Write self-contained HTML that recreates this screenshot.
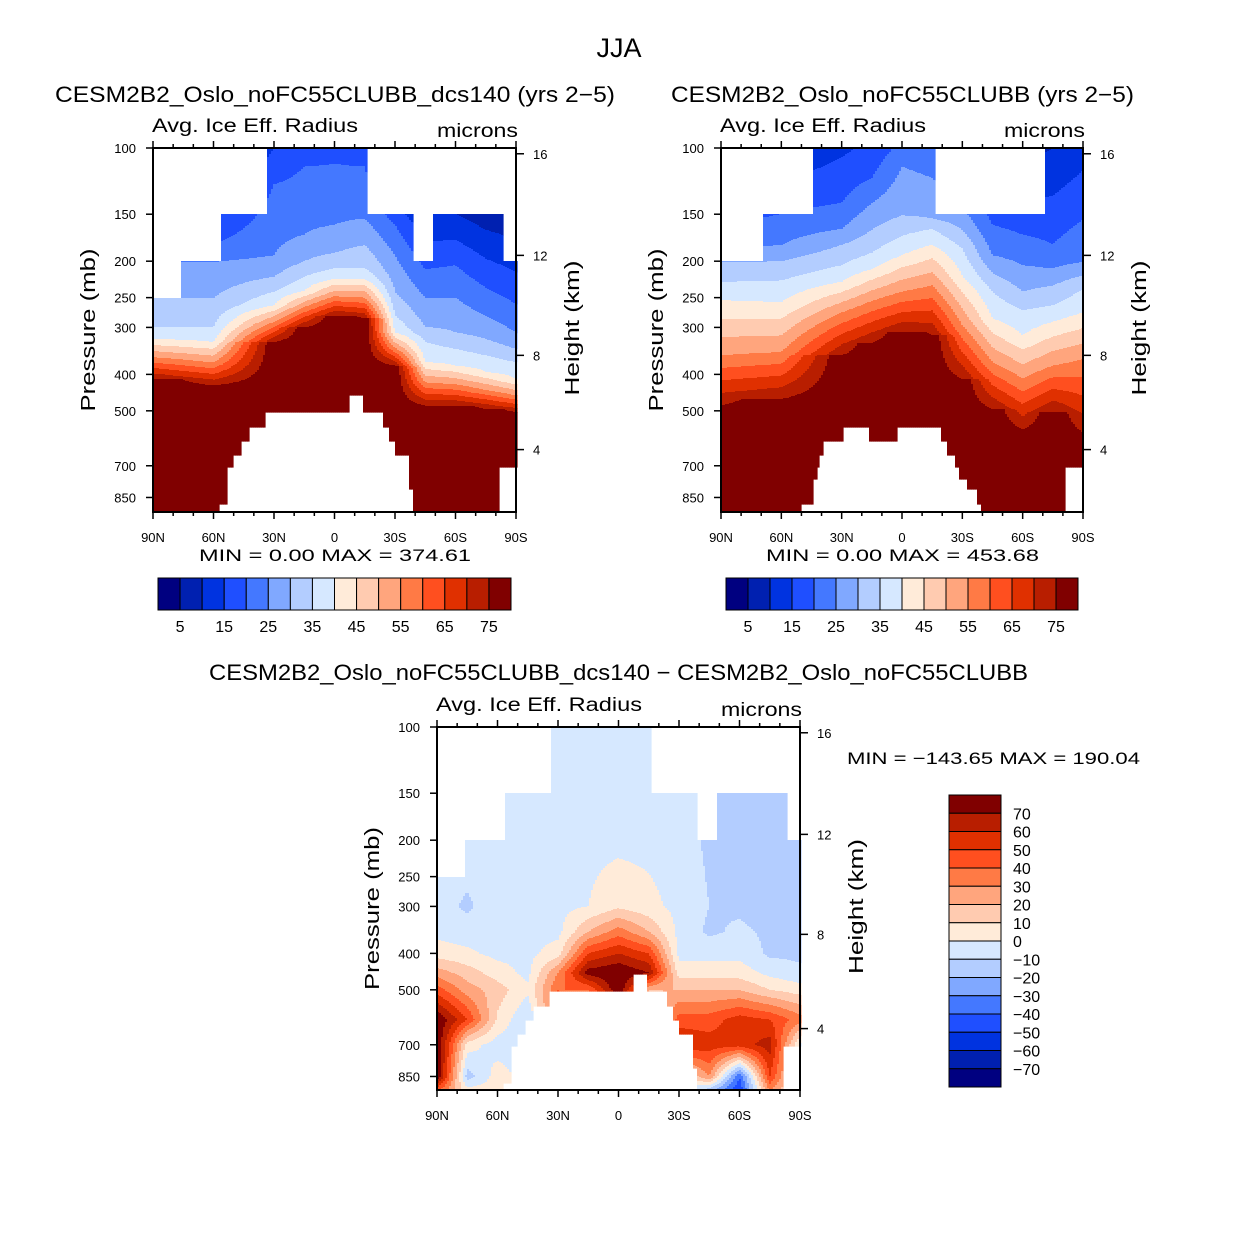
<!DOCTYPE html>
<html><head><meta charset="utf-8">
<style>
html,body{margin:0;padding:0;background:#fff;}
svg text{font-family:"Liberation Sans",sans-serif;fill:#000;}
</style></head>
<body>
<svg id="fig" xmlns="http://www.w3.org/2000/svg" width="1238" height="1240" viewBox="0 0 1238 1240">
<rect width="1238" height="1240" fill="#fff"/>
<text x="619" y="57" font-size="27" text-anchor="middle">JJA</text>
<g id="p1"></g>
<g id="p2"></g>
<g id="p3"></g>
</svg>
<script>
// ---------- data ----------
const COLORS = ["#000080","#0020b0","#0033e0","#1f4fff","#4478ff","#80a8ff","#b3cdff","#d6e8ff","#ffebd9","#ffcbb0","#ffa57d","#ff7a45","#ff4f1f","#e03000","#b81e00","#800000"];
const xTickLabels = ["90N","60N","30N","0","30S","60S","90S"];
const xTickLats = [90,60,30,0,-30,-60,-90];
const pTickLabels = ["100","150","200","250","300","400","500","700","850"];
const pTickVals = [100,150,200,250,300,400,500,700,850];
const hTickLabels = ["16","12","8","4"];
const hTickP = [103.6,193,356,634];
const absBarLabels = ["5","15","25","35","45","55","65","75"];
const diffBarLabels = ["70","60","50","40","30","20","10","0","\u221210","\u221220","\u221230","\u221240","\u221250","\u221260","\u221270"];

const levels = [10,20,25,30,35,40,55,75];
const lats12 = [90,60,30,15,0,-15,-30,-45,-60,-75,-90];
const lev1 = [
 [130,170,201,251,299,322,360,411],
 [130,181,201,251,299,328,372,428],
 [80,125,193,220,241,262,290,328],
 [75,112,170,200,220,240,265,300],
 [75,110,160,190,209,223,248,279],
 [75,112,154,181,209,223,250,284],
 [120,160,193,241,279,309,340,379],
 [150,210,250,299,328,371,420,484],
 [150,205,250,309,342,379,425,484],
 [165,235,280,322,356,394,440,494],
 [175,260,310,342,371,411,455,504]];
const lev2 = [
 [110,160,190,201,227,254,356,484],
 [100,150,181,200,225,257,349,465],
 [80,140,164,181,205,227,274,356],
 [75,120,140,165,190,210,255,330],
 [70,95,112,151,171,193,241,309],
 [65,90,120,154,164,181,232,315],
 [90,120,145,165,185,219,296,411],
 [105,160,193,215,241,284,371,494],
 [110,170,205,241,270,315,411,560],
 [100,180,209,232,262,290,379,504],
 [85,155,201,218,237,274,364,570]];
const diffP = [100,200,300,350,400,450,500,600,700,850,930];
const lats3 = [90,75,60,45,30,15,0,-15,-30,-45,-60,-75,-90];
const diff = [
 [-3,-3,-5,-3,5,25,45,80,80,80,40],
 [-3,-3,-12,-5,2,15,25,50,5,-15,5],
 [-3,-3,-3,-3,-3,5,15,8,-5,5,5],
 [-3,-3,-3,-3,-3,-3,2,-10,-5,-5,-5],
 [-3,-3,-3,-3,5,30,40,40,0,0,0],
 [-3,-3,0,20,50,75,40,0,0,0,0],
 [-3,-3,8,35,60,80,80,0,0,0,0],
 [-3,-3,3,20,50,70,20,0,0,0,0],
 [-3,-5,-3,-3,-3,5,20,45,60,0,0],
 [-8,-12,-10,-12,-3,5,20,45,55,30,-20],
 [-8,-12,-12,-8,-3,5,20,55,55,-40,-50],
 [-12,-12,-15,-12,-12,-3,10,50,65,50,30],
 [-12,-15,-12,-12,-12,-8,5,35,-3,-3,-3]];
const mask1 = [[90,33,0,150],[90,55.8,0,200],[90,76.6,0,250],[-16,-90,0,150],[-39,-49,0,200],[-84,-90,0,200],
 [57.6,53.5,883,1000],[53.5,50.2,706,1000],[50.2,46,655,1000],[46,42.4,603,1000],[42.4,34.8,553,1000],[34.8,-6.9,504,1000],
 [-6.9,-14.3,453,1000],[-14.3,-23.7,504,1000],[-23.7,-27.5,553,1000],[-27.5,-30,603,1000],[-30,-36.6,655,1000],[-36.6,-39.1,805,1000],[-81.3,-90,706,1000]];
const mask2 = [[90,44.6,0,150],[90,69.5,0,200],[-16.5,-71.2,0,150],
 [50.1,44.3,883,1000],[44.3,42.1,759,1000],[42.1,40.9,706,1000],[40.9,38.8,655,1000],[38.8,29.3,603,1000],[29.3,16.1,553,1000],
 [16.1,2.5,603,1000],[2.5,-19.6,553,1000],[-19.6,-22,603,1000],[-22,-25.9,655,1000],[-25.9,-27.9,706,1000],[-27.9,-32.8,759,1000],
 [-32.8,-37,805,1000],[-37,-39.1,883,1000],[-81.4,-90,706,1000]];

// ---------- helpers ----------
const NS="http://www.w3.org/2000/svg";
function mk(tag, attrs, parent){const e=document.createElementNS(NS,tag);for(const k in attrs)e.setAttribute(k,attrs[k]);parent.appendChild(e);return e;}
function colValue(P, p){
  const lp=Math.log(p);
  const L=P.map(Math.log);
  if(lp<=L[0]){return Math.max(0, levels[0]+(lp-L[0])*(levels[1]-levels[0])/(L[1]-L[0]));}
  for(let i=0;i<L.length-1;i++){
    if(lp<=L[i+1]) return levels[i]+(lp-L[i])/(L[i+1]-L[i])*(levels[i+1]-levels[i]);
  }
  return 80;
}
function latInterp(lats, lat, fn){
  let i=0; while(i<lats.length-2 && lat<lats[i+1]) i++;
  const t=(lats[i]-lat)/(lats[i]-lats[i+1]);
  return fn(i)*(1-t)+fn(i+1)*t;
}
function absField(levArr){return (lat,p)=>latInterp(lats12,lat,i=>colValue(levArr[i],p));}
function diffField(lat,p){
  const lp=Math.log(p); const L=diffP.map(Math.log);
  let j=0; while(j<L.length-2 && lp>L[j+1]) j++;
  let u=(lp-L[j])/(L[j+1]-L[j]); u=Math.max(0,Math.min(1,u));
  return latInterp(lats3,lat,i=>diff[i][j]*(1-u)+diff[i][j+1]*u);
}
function masked(mask,lat,p){for(const m of mask){if(lat<=m[0]&&lat>=m[1]&&p>=m[2]&&p<=m[3])return true;}return false;}

function drawPanel(g, o){
  const {x0,y0,w,h}=o;
  const K=163.3;
  const xOf=lat=>x0+(90-lat)/180*w;
  const yOf=p=>y0+Math.log(p/100)*K;
  const pOf=y=>100*Math.exp((y-y0)/K);
  const latOf=x=>90-(x-x0)/w*180;
  const field=mk("g",{},g);
  
  
  const step=2;
  for(let x=x0;x<x0+w;x+=step){
    const lat=latOf(x+step/2);
    let runStart=y0, runCol=null;
    const flush=(yEnd)=>{
      if(runCol!==null && runCol>=0){
        const r=mk("rect",{x:x,y:runStart,width:step+0.6,height:yEnd-runStart+0.6,fill:COLORS[runCol]},field);
        
        
      }
    };
    for(let y=y0;y<y0+h;y++){
      const p=pOf(y+0.5);
      let c;
      if(masked(o.mask,lat,p)) c=-1;
      else { const v=o.field(lat,p); c=o.diff? Math.floor(v/10)+8 : Math.floor(v/5); c=Math.max(0,Math.min(15,c)); }
      if(c!==runCol){flush(y);runStart=y;runCol=c;}
    }
    flush(y0+h);
  }
  const fr=mk("rect",{x:x0,y:y0,width:w,height:h,fill:"none",stroke:"#000","stroke-width":2},g);
  
  
  for(let lat=90;lat>=-90;lat-=10){
    const x=xOf(lat); const major=(lat%30===0); const L=major?7:4;
    mk("line",{x1:x,y1:y0,x2:x,y2:y0-L,stroke:"#000","stroke-width":1.5},g);
    mk("line",{x1:x,y1:y0+h,x2:x,y2:y0+h+L,stroke:"#000","stroke-width":1.5},g);
  }
  xTickLabels.forEach((s,i)=>{
    const t=mk("text",{x:xOf(xTickLats[i]),y:y0+h+30,"font-size":13,"text-anchor":"middle"},g);
    t.textContent=s;
    
    
  });
  pTickLabels.forEach((s,i)=>{
    const y=yOf(pTickVals[i]);
    mk("line",{x1:x0,y1:y,x2:x0-7,y2:y,stroke:"#000","stroke-width":1.5},g);
    const t=mk("text",{x:x0-17,y:y+5,"font-size":13,"text-anchor":"end"},g);
    t.textContent=s;
    
    
  });
  hTickLabels.forEach((s,i)=>{
    const y=yOf(hTickP[i]);
    mk("line",{x1:x0+w,y1:y,x2:x0+w+8,y2:y,stroke:"#000","stroke-width":1.5},g);
    const t=mk("text",{x:x0+w+17,y:y+5,"font-size":13},g);
    t.textContent=s;
    
    
  });
  const cy=y0+h/2;
  let t=mk("text",{x:0,y:0,"font-size":20,"text-anchor":"middle",transform:`translate(${x0-58},${cy}) rotate(-90)`,textLength:163,lengthAdjust:"spacingAndGlyphs"},g);
  t.textContent="Pressure (mb)";
  
  
  t=mk("text",{x:0,y:0,"font-size":20,"text-anchor":"middle",transform:`translate(${x0+w+63},${cy-2}) rotate(-90)`,textLength:135,lengthAdjust:"spacingAndGlyphs"},g);
  t.textContent="Height (km)";
  
  
  t=mk("text",{x:x0-1,y:y0-16,"font-size":19,textLength:206,lengthAdjust:"spacingAndGlyphs"},g);
  t.textContent="Avg. Ice Eff. Radius";
  
  
  t=mk("text",{x:x0+w+2,y:y0-11,"font-size":19,"text-anchor":"end",textLength:81,lengthAdjust:"spacingAndGlyphs"},g);
  t.textContent="microns";
  
  
}
function text(g,s,x,y,size,len,name,anchor){
  const a={x:x,y:y,"font-size":size};
  if(len){a.textLength=len;a.lengthAdjust="spacingAndGlyphs";}
  if(anchor)a["text-anchor"]=anchor;
  const t=mk("text",a,g); t.textContent=s;
  
  
  return t;
}
function hBar(g,x0,y0,w,h){
  const bw=w/16;
  COLORS.forEach((c,i)=>{
    const r=mk("rect",{x:x0+i*bw,y:y0,width:bw,height:h,fill:c,stroke:"#000","stroke-width":1},g);
    
    
  });
  absBarLabels.forEach((s,i)=>{
    const t=mk("text",{x:x0+(1+2*i)*bw,y:y0+h+22,"font-size":16,"text-anchor":"middle"},g);
    t.textContent=s;
    
    
  });
}
const g1=document.getElementById('p1'),g2=document.getElementById('p2'),g3=document.getElementById('p3');
drawPanel(g1,{x0:153,y0:148,w:363,h:364,mask:mask1,field:absField(lev1)});
text(g1,"CESM2B2_Oslo_noFC55CLUBB_dcs140 (yrs 2\u22125)",55,102,22,560,"panel-title");
text(g1,"MIN =    0.00   MAX = 374.61",199,561,17,272,"min-max-label");
hBar(g1,158,578,353,32);

drawPanel(g2,{x0:721,y0:148,w:362,h:364,mask:mask2,field:absField(lev2)});
text(g2,"CESM2B2_Oslo_noFC55CLUBB (yrs 2\u22125)",671,102,22,463,"panel-title");
text(g2,"MIN =    0.00   MAX = 453.68",766,561,17,273,"min-max-label");
hBar(g2,726,578,352,32);

drawPanel(g3,{x0:437,y0:727,w:363,h:363,mask:mask1,field:diffField,diff:true});
text(g3,"CESM2B2_Oslo_noFC55CLUBB_dcs140 \u2212 CESM2B2_Oslo_noFC55CLUBB",209,680,22,819,"panel-title");
text(g3,"MIN = \u2212143.65   MAX = 190.04",847,764,17,293,"min-max-label");
(function(){
  const x0=949,y0=795,w=52,h=292,bh=h/16;
  COLORS.slice().reverse().forEach((c,i)=>{
    const r=mk("rect",{x:x0,y:y0+i*bh,width:w,height:bh,fill:c,stroke:"#000","stroke-width":1},g3);
    
    
  });
  diffBarLabels.forEach((s,i)=>{
    const t=mk("text",{x:x0+w+12,y:y0+(i+1)*bh+6,"font-size":16},g3);
    t.textContent=s;
    
    
  });
})();
</script>
</body></html>
